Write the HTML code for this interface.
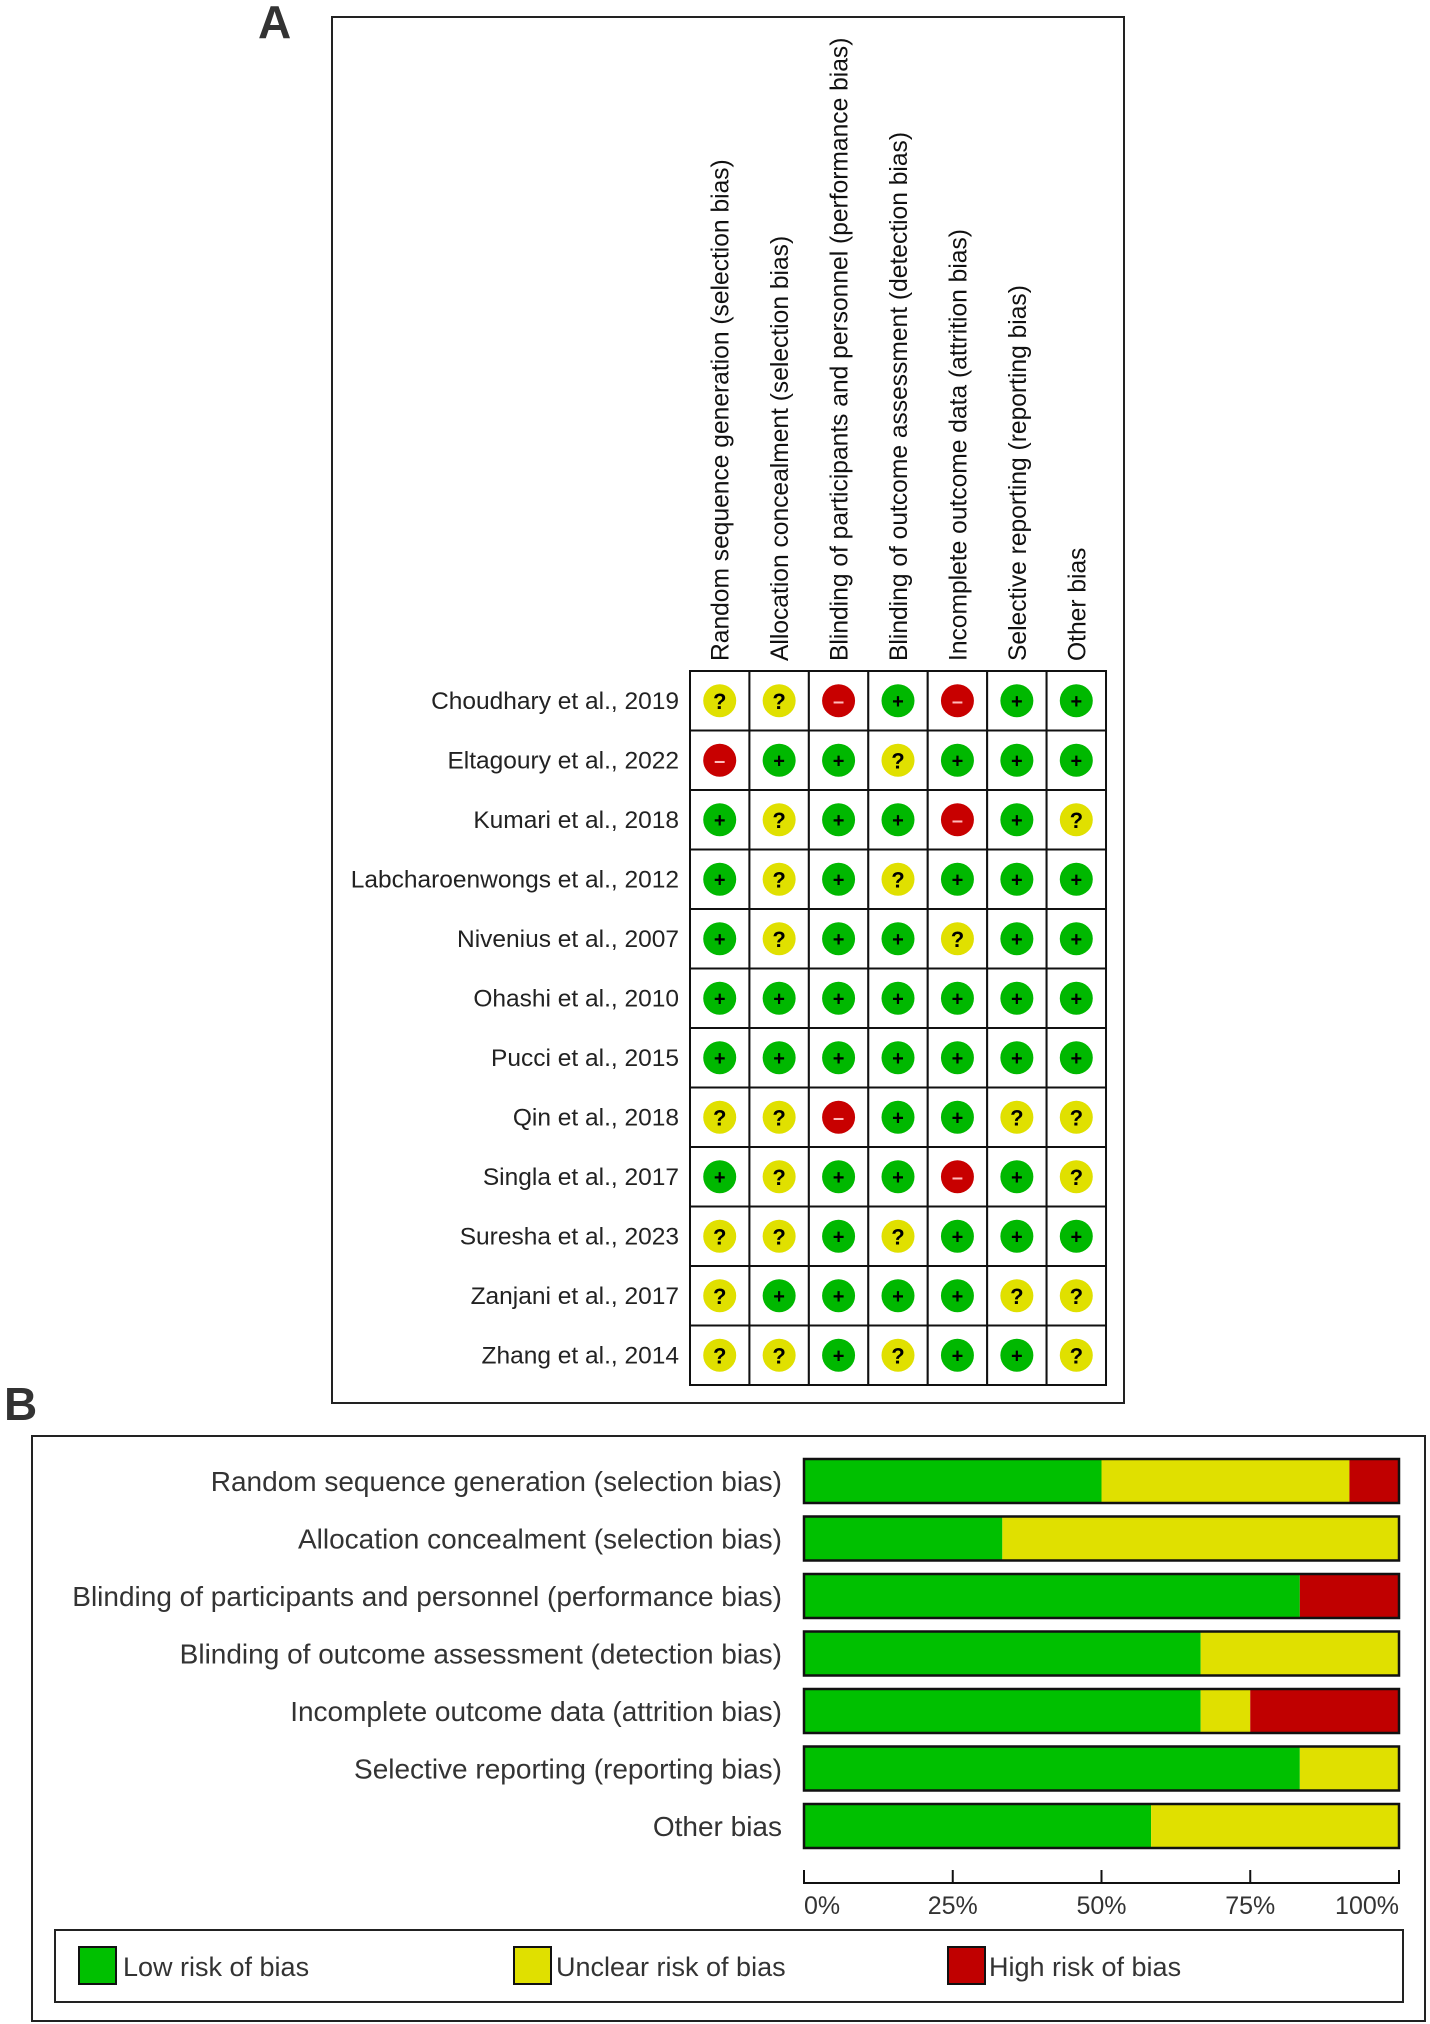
<!DOCTYPE html>
<html><head><meta charset="utf-8"><style>
html,body{margin:0;padding:0;background:#fff;}
svg{display:block;font-family:"Liberation Sans",Arial,sans-serif;}
</style></head><body>
<svg id="fig" width="1430" height="2024" viewBox="0 0 1430 2024" xmlns="http://www.w3.org/2000/svg">
<text x="258" y="38" font-size="46" font-weight="bold" fill="#333">A</text>
<rect x="332" y="17" width="792" height="1386" fill="none" stroke="#222" stroke-width="2"/>
<text x="4" y="1420" font-size="46" font-weight="bold" fill="#333">B</text>
<rect x="32" y="1436" width="1393" height="585" fill="none" stroke="#222" stroke-width="2"/>
<g id="gridA"></g>
<g id="barsB"></g>
<g id="legend">
<rect x="55" y="1930" width="1348" height="72" fill="none" stroke="#222" stroke-width="2"/>
<rect x="79" y="1947" width="37" height="37" fill="#00c000" stroke="#111" stroke-width="2"/>
<text x="123" y="1976" font-size="27" fill="#333">Low risk of bias</text>
<rect x="514" y="1947" width="37" height="37" fill="#e0e000" stroke="#111" stroke-width="2"/>
<text x="556" y="1976" font-size="27" fill="#333">Unclear risk of bias</text>
<rect x="948" y="1947" width="37" height="37" fill="#c00000" stroke="#111" stroke-width="2"/>
<text x="989" y="1976" font-size="27" fill="#333">High risk of bias</text>
</g>
</svg>
<script>
const domains = ["Random sequence generation (selection bias)","Allocation concealment (selection bias)","Blinding of participants and personnel (performance bias)","Blinding of outcome assessment (detection bias)","Incomplete outcome data (attrition bias)","Selective reporting (reporting bias)","Other bias"];
const studies = ["Choudhary et al., 2019","Eltagoury et al., 2022","Kumari et al., 2018","Labcharoenwongs et al., 2012","Nivenius et al., 2007","Ohashi et al., 2010","Pucci et al., 2015","Qin et al., 2018","Singla et al., 2017","Suresha et al., 2023","Zanjani et al., 2017","Zhang et al., 2014"];
const judgements = [
"??-+-++","-++?+++","+?++-+?","+?+?+++","+?++?++","+++++++","+++++++","??-++??","+?++-+?","??+?+++","?++++??","??+?++?"];
const tickLabels = ["0%","25%","50%","75%","100%"];
const tickValues = [0,25,50,75,100];

const NS="http://www.w3.org/2000/svg";
function mk(tag,attrs,parent){const e=document.createElementNS(NS,tag);for(const k in attrs)e.setAttribute(k,attrs[k]);parent.appendChild(e);return e;}
const gx0=690, gy0=671, cw=59.43, ch=59.5;
const colX=i=>gx0+cw*i, rowY=j=>gy0+ch*j;
const gA=document.getElementById('gridA');
domains.forEach((d,i)=>{
  const t=mk('text',{x:0,y:0,'font-size':24.6,fill:'#111',transform:`translate(${colX(i)+cw/2+9},661) rotate(-90)`},gA);
  t.textContent=d;
  
  
});
const colorOf={'+':'#00b800','?':'#e0e000','-':'#c80000'};
studies.forEach((s,j)=>{
  const t=mk('text',{x:679,y:rowY(j)+ch/2+8,'font-size':24.5,fill:'#222','text-anchor':'end'},gA);
  t.textContent=s;
  
  
  for(let i=0;i<domains.length;i++){
    const r=mk('rect',{x:colX(i),y:rowY(j),width:cw,height:ch,fill:'#fff',stroke:'#111','stroke-width':2},gA);
    
    
    const v=judgements[j][i];
    const cx=colX(i)+cw/2, cy=rowY(j)+ch/2;
    const c=mk('circle',{cx:cx,cy:cy,r:16.5,fill:colorOf[v]},gA);
    
    
    const sym=mk('text',{x:cx,y:cy+(v==='?'?8:7),'font-size':v==='?'?22:20,'font-weight':'bold','text-anchor':'middle',fill:v==='-'?'#fbb':'#000'},gA);
    sym.textContent=v==='-'?'–':v;
    
    
  }
});
const bx0=804, bx1=1399, by0=1459, pitch=57.5, bh=44;
const xScale=p=>bx0+(bx1-bx0)*p/100;
const gB=document.getElementById('barsB');
domains.forEach((d,i)=>{
  const y=by0+pitch*i;
  const n=studies.length;
  let lo=0,un=0,hi=0;
  judgements.forEach(r=>{const v=r[i]; if(v==='+')lo++; else if(v==='?')un++; else hi++;});
  const segs=[[0,lo/n*100,'#00c000','bar-low'],[lo/n*100,(lo+un)/n*100,'#e0e000','bar-unclear'],[(lo+un)/n*100,100,'#c00000','bar-high']];
  segs.forEach(([a,b,col,name])=>{
    if(b-a<=0)return;
    const r=mk('rect',{x:xScale(a),y:y,width:xScale(b)-xScale(a),height:bh,fill:col},gB);
    
    
  });
  const fr=mk('rect',{x:bx0,y:y,width:bx1-bx0,height:bh,fill:'none',stroke:'#111','stroke-width':2.5},gB);
  
  
  const t=mk('text',{x:782,y:y+bh/2+10,'font-size':28,fill:'#333','text-anchor':'end'},gB);
  t.textContent=d;
  
  
});
const ax=mk('line',{x1:bx0,x2:bx1,y1:1883,y2:1883,stroke:'#111','stroke-width':2},gB);


tickValues.forEach((v,k)=>{
  const x=xScale(v);
  const tk=mk('line',{x1:x,x2:x,y1:1870,y2:1884,stroke:'#111','stroke-width':2},gB);
  
  
  const anchor=k===0?'start':(k===tickValues.length-1?'end':'middle');
  const t=mk('text',{x:x,y:1914,'font-size':25,fill:'#333','text-anchor':anchor},gB);
  t.textContent=tickLabels[k];
  
  
});
</script>
</body></html>
